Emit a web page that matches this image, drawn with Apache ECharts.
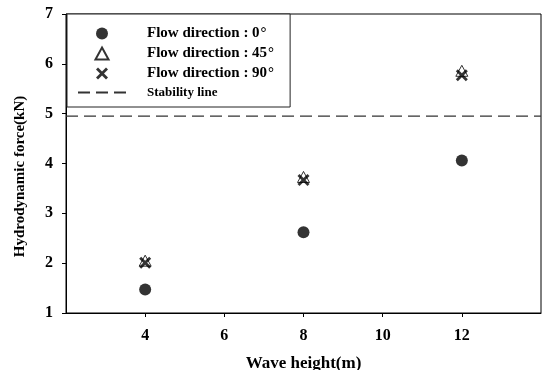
<!DOCTYPE html>
<html>
<head>
<meta charset="utf-8">
<script src="https://cdn.jsdelivr.net/npm/echarts@6/dist/echarts.min.js"></script>
<style>html,body{margin:0;padding:0;background:#fff}#c{width:543px;height:370px}</style>
</head>
<body>
<div id="c"></div>
<script>
var waveHeights = [4, 8, 12];
var flow0 = [1.47, 2.62, 4.06];
var flow45 = [2.05, 3.73, 5.86];
var flow90 = [2.01, 3.67, 5.77];
var stabilityValue = 4.95;
var xTicks = [4, 6, 8, 10, 12];
var seriesNames = ['Flow direction : 0', 'Flow direction : 45', 'Flow direction : 90', 'Stability line'];

function pairs(ys) { return waveHeights.map(function (x, i) { return [x, ys[i]]; }); }

var crossPath = 'path://M0,2 L2,0 L6,4 L10,0 L12,2 L8,6 L12,10 L10,12 L6,8 L2,12 L0,10 L4,6 Z';
var triPath = 'path://M6,0 L12,11 L0,11 Z';
var font = '"Liberation Serif", "Times New Roman", serif';

var chart = echarts.init(document.getElementById('c'), null, { renderer: 'canvas' });
chart.setOption({
  backgroundColor: '#fff',
  animation: false,
  grid: { left: 66, right: 2, top: 14, bottom: 57, show: true, borderColor: '#000', borderWidth: 1,
          containLabel: false, outerBoundsMode: 'none' },
  xAxis: {
    type: 'value', min: 2, max: 14, interval: 2,
    name: 'Wave height(m)', nameLocation: 'middle', nameGap: 42,
    nameTextStyle: { fontFamily: font, fontWeight: 'bold', fontSize: 17, color: '#000' },
    axisLine: { lineStyle: { color: '#000', width: 1 } },
    axisTick: { show: true, length: 4, customValues: xTicks, lineStyle: { color: '#000' } },
    axisLabel: { customValues: xTicks, margin: 15, fontFamily: font, fontWeight: 'bold', fontSize: 16, color: '#000' },
    splitLine: { show: false }
  },
  yAxis: {
    type: 'value', min: 1, max: 7, interval: 1,
    name: 'Hydrodynamic force(kN)', nameLocation: 'middle', nameGap: 38,
    nameTextStyle: { fontFamily: font, fontWeight: 'bold', fontSize: 15, color: '#000', padding: [0, 26, 0, 0] },
    axisLine: { show: true, lineStyle: { color: '#000', width: 1 } },
    axisTick: { show: true, length: 4, lineStyle: { color: '#000' } },
    axisLabel: { margin: 13, fontFamily: font, fontWeight: 'bold', fontSize: 16, color: '#000' },
    splitLine: { show: false }
  },
  legend: {
    orient: 'vertical', left: 67, top: 14,
    data: seriesNames.map(function (n) { return { name: n }; }),
    itemWidth: 48, itemHeight: 12, itemGap: 5,
    padding: [12, 16, 8, 10],
    borderColor: '#222', borderWidth: 1, backgroundColor: '#fff',
    formatter: function (n) {
      if (n === seriesNames[3]) return '{s|' + n + '}';
      return '{t|' + n + '}{d|°}';
    },
    textStyle: {
      fontFamily: font, fontWeight: 'bold', fontSize: 15, color: '#000', padding: [0, 0, 0, 16],
      rich: {
        t: { fontFamily: font, fontWeight: 'bold', fontSize: 15, lineHeight: 14, color: '#000' },
        d: { fontFamily: font, fontSize: 15, lineHeight: 14, color: '#000', padding: [0, 0, 0, 1] },
        s: { fontFamily: font, fontWeight: 'bold', fontSize: 13, lineHeight: 14, color: '#000' }
      }
    }
  },
  series: [
    {
      name: seriesNames[3], type: 'line', data: [[2, stabilityValue], [14, stabilityValue]],
      symbol: 'none', z: 1,
      lineStyle: { color: '#333', width: 1.2, type: [12, 6] },
      itemStyle: { color: 'rgba(0,0,0,0)', borderWidth: 0 }
    },
    {
      name: seriesNames[1], type: 'scatter', data: pairs(flow45), symbol: triPath, symbolSize: 12, z: 3,
      symbolKeepAspect: true,
      itemStyle: { color: '#fff', borderColor: '#000', borderWidth: 1 }
    },
    {
      name: seriesNames[2], type: 'scatter', data: pairs(flow90), symbol: crossPath, symbolSize: 12, z: 4,
      symbolKeepAspect: true,
      itemStyle: { color: '#000' }
    },
    {
      name: seriesNames[0], type: 'scatter', data: pairs(flow0), symbol: 'circle', symbolSize: 12, z: 5,
      itemStyle: { color: '#000' }
    }
  ]
});
</script>
</body>
</html>
